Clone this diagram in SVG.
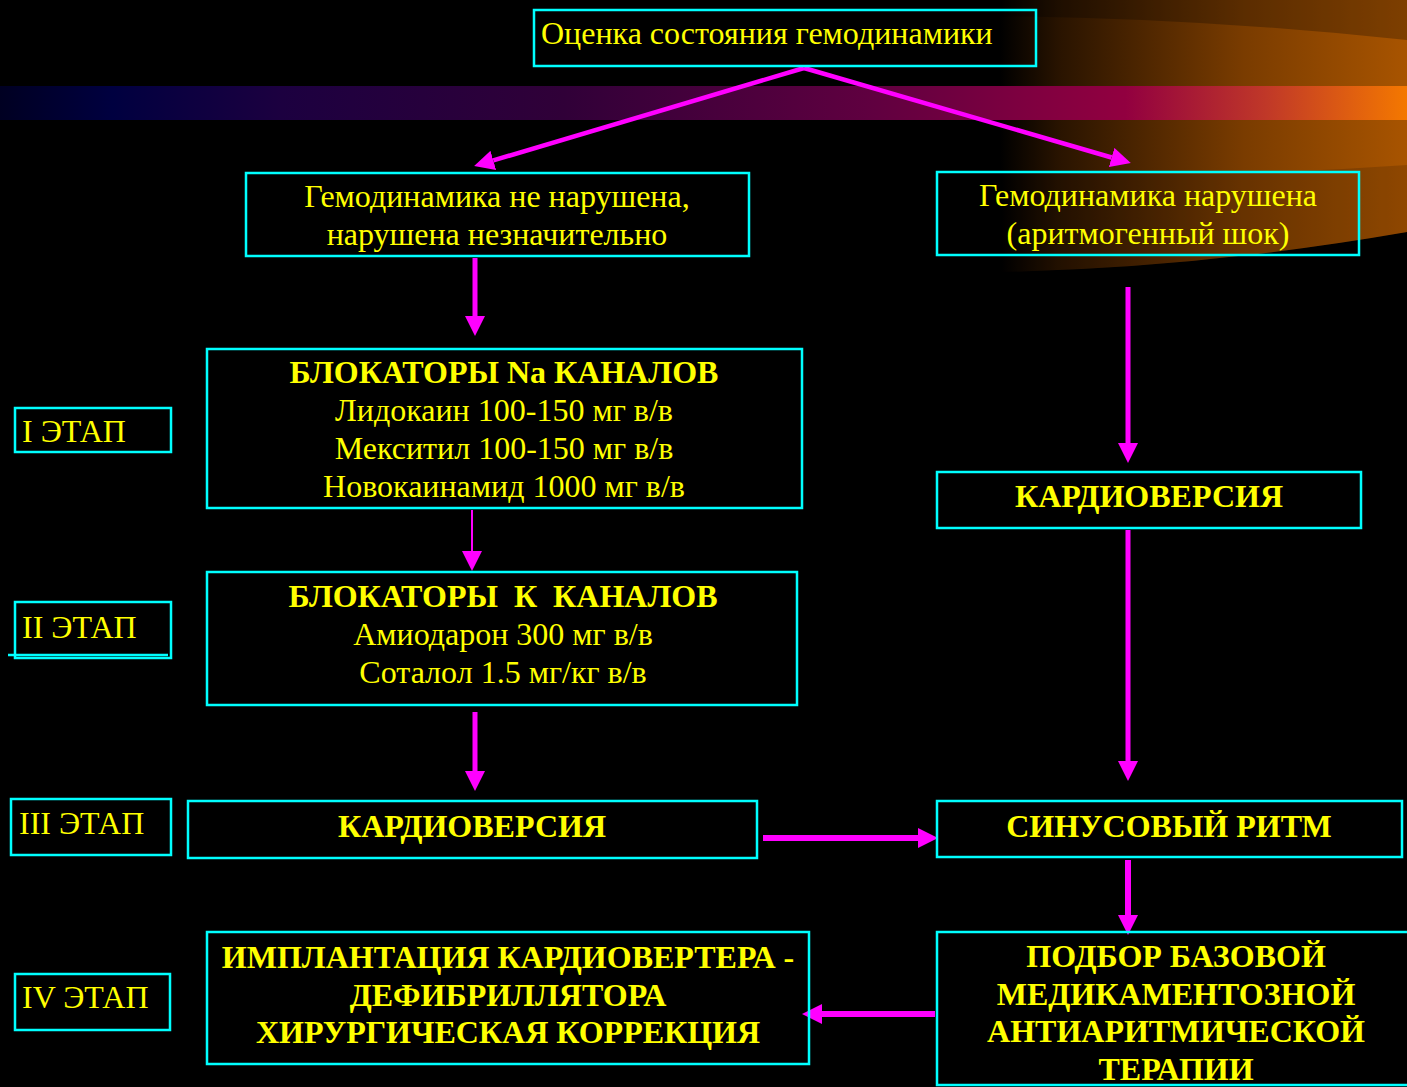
<svg xmlns="http://www.w3.org/2000/svg" width="1407" height="1087" viewBox="0 0 1407 1087">
<defs>
<linearGradient id="band" x1="0" y1="0" x2="1407" y2="0" gradientUnits="userSpaceOnUse">
<stop offset="0" stop-color="#000022"/>
<stop offset="0.08" stop-color="#000040"/>
<stop offset="0.2" stop-color="#1c0040"/>
<stop offset="0.4" stop-color="#300038"/>
<stop offset="0.62" stop-color="#600040"/>
<stop offset="0.8" stop-color="#920040"/>
<stop offset="0.9" stop-color="#c03828"/>
<stop offset="1" stop-color="#f47800"/>
</linearGradient>
<linearGradient id="glow" x1="1000" y1="0" x2="1407" y2="0" gradientUnits="userSpaceOnUse">
<stop offset="0" stop-color="#000000"/>
<stop offset="0.15" stop-color="#2a1400"/>
<stop offset="0.6" stop-color="#7a3c00"/>
<stop offset="1" stop-color="#a85400"/>
</linearGradient>
<marker id="ah" markerUnits="userSpaceOnUse" markerWidth="20" markerHeight="20" refX="0" refY="9" orient="auto" viewBox="0 0 18 18">
<path d="M0,0 L18,9 L0,18 z" fill="#ff00ff"/>
</marker>
<marker id="ahs" markerUnits="userSpaceOnUse" markerWidth="20" markerHeight="20" refX="0" refY="10" orient="auto" viewBox="0 0 20 20">
<path d="M0,0 L20,10 L0,20 z" fill="#ff00ff"/>
</marker>
</defs>
<style>
.box{fill:none;stroke:#00ffff;stroke-width:2.5}
.t{font-family:"Liberation Serif","Times New Roman",serif;font-size:32px;fill:#ffff00}
.b{font-weight:bold}
.m{text-anchor:middle}
.c{stroke:#ff00ff;fill:none}
</style>
<rect x="0" y="0" width="1407" height="1087" fill="#000000"/>
<g id="background">
<path d="M1000,0 L1407,0 L1407,232 Q1200,268 1000,272 Z" fill="url(#glow)"/>
<path d="M1000,16 Q1200,18 1407,40 L1407,0 L1000,0 Z" fill="#000000" opacity="0.25"/>
<path d="M1000,170 Q1200,180 1407,165 L1407,232 Q1200,268 1000,272 Z" fill="#000000" opacity="0.15"/>
<rect x="0" y="86" width="1407" height="34" fill="url(#band)"/>
</g>
<g id="connectors">
<line class="c" x1="804" y1="68" x2="493.3" y2="160.4" stroke-width="4.5" marker-end="url(#ah)"/>
<line class="c" x1="804" y1="68" x2="1111.6" y2="157.5" stroke-width="4.5" marker-end="url(#ah)"/>
<line class="c" x1="475" y1="258" x2="475" y2="316" stroke-width="5" marker-end="url(#ah)"/>
<line class="c" x1="472" y1="510" x2="472" y2="551" stroke-width="2" marker-end="url(#ahs)"/>
<line class="c" x1="475" y1="712" x2="475" y2="771" stroke-width="5" marker-end="url(#ah)"/>
<line class="c" x1="1128" y1="287" x2="1128" y2="443" stroke-width="5" marker-end="url(#ah)"/>
<line class="c" x1="1128" y1="530" x2="1128" y2="761" stroke-width="5" marker-end="url(#ah)"/>
<line class="c" x1="763" y1="838" x2="918" y2="838" stroke-width="6" marker-end="url(#ah)"/>
<line class="c" x1="1128" y1="860" x2="1128" y2="915" stroke-width="6" marker-end="url(#ah)"/>
<line class="c" x1="935" y1="1014" x2="822" y2="1014" stroke-width="6" marker-end="url(#ah)"/>
</g>
<g id="n-top">
<rect class="box" x="534" y="10" width="502" height="56"/>
<text class="t" x="541" y="44">Оценка состояния гемодинамики</text>
</g>
<g id="n-ok">
<rect class="box" x="246" y="173" width="503" height="83"/>
<text class="t m" x="497" y="207">Гемодинамика не нарушена,</text>
<text class="t m" x="497" y="245">нарушена незначительно</text>
</g>
<g id="n-shock">
<rect class="box" x="937" y="172" width="422" height="83"/>
<text class="t m" x="1148" y="206">Гемодинамика нарушена</text>
<text class="t m" x="1148" y="244">(аритмогенный шок)</text>
</g>
<g id="n-na">
<rect class="box" x="207" y="349" width="595" height="159"/>
<text class="t b m" x="504" y="383">БЛОКАТОРЫ Na КАНАЛОВ</text>
<text class="t m" x="504" y="421">Лидокаин 100-150 мг в/в</text>
<text class="t m" x="504" y="459">Мекситил 100-150 мг в/в</text>
<text class="t m" x="504" y="497">Новокаинамид 1000 мг в/в</text>
</g>
<g id="n-k">
<rect class="box" x="207" y="572" width="590" height="133"/>
<text class="t b m" x="503" y="607" xml:space="preserve">БЛОКАТОРЫ  К  КАНАЛОВ</text>
<text class="t m" x="503" y="645">Амиодарон 300 мг в/в</text>
<text class="t m" x="503" y="683">Соталол 1.5 мг/кг в/в</text>
</g>
<g id="n-cv-left">
<rect class="box" x="188" y="801" width="569" height="57"/>
<text class="t b m" x="472" y="837">КАРДИОВЕРСИЯ</text>
</g>
<g id="n-cv-right">
<rect class="box" x="937" y="472" width="424" height="56"/>
<text class="t b m" x="1149" y="507">КАРДИОВЕРСИЯ</text>
</g>
<g id="n-sinus">
<rect class="box" x="937" y="801" width="465" height="56"/>
<text class="t b m" x="1169" y="837">СИНУСОВЫЙ РИТМ</text>
</g>
<g id="n-therapy">
<rect class="box" x="937" y="932" width="475" height="153"/>
<text class="t b m" x="1176" y="967">ПОДБОР БАЗОВОЙ</text>
<text class="t b m" x="1176" y="1005">МЕДИКАМЕНТОЗНОЙ</text>
<text class="t b m" x="1176" y="1042">АНТИАРИТМИЧЕСКОЙ</text>
<text class="t b m" x="1176" y="1080">ТЕРАПИИ</text>
</g>
<g id="n-icd">
<rect class="box" x="207" y="932" width="602" height="132"/>
<text class="t b m" x="508" y="968">ИМПЛАНТАЦИЯ КАРДИОВЕРТЕРА -</text>
<text class="t b m" x="508" y="1006">ДЕФИБРИЛЛЯТОРА</text>
<text class="t b m" x="508" y="1043">ХИРУРГИЧЕСКАЯ КОРРЕКЦИЯ</text>
</g>
<g id="stage-1">
<rect class="box" x="15" y="408" width="156" height="44"/>
<text class="t" x="22" y="442">I ЭТАП</text>
</g>
<g id="stage-2">
<rect class="box" x="15" y="602" width="156" height="56"/>
<line x1="8" y1="655" x2="168" y2="655" stroke="#00ffff" stroke-width="2.5"/>
<text class="t" x="22" y="638">II ЭТАП</text>
</g>
<g id="stage-3">
<rect class="box" x="11" y="799" width="160" height="56"/>
<text class="t" x="19" y="834">III ЭТАП</text>
</g>
<g id="stage-4">
<rect class="box" x="15" y="974" width="155" height="56"/>
<text class="t" x="22" y="1008">IV ЭТАП</text>
</g>
</svg>
